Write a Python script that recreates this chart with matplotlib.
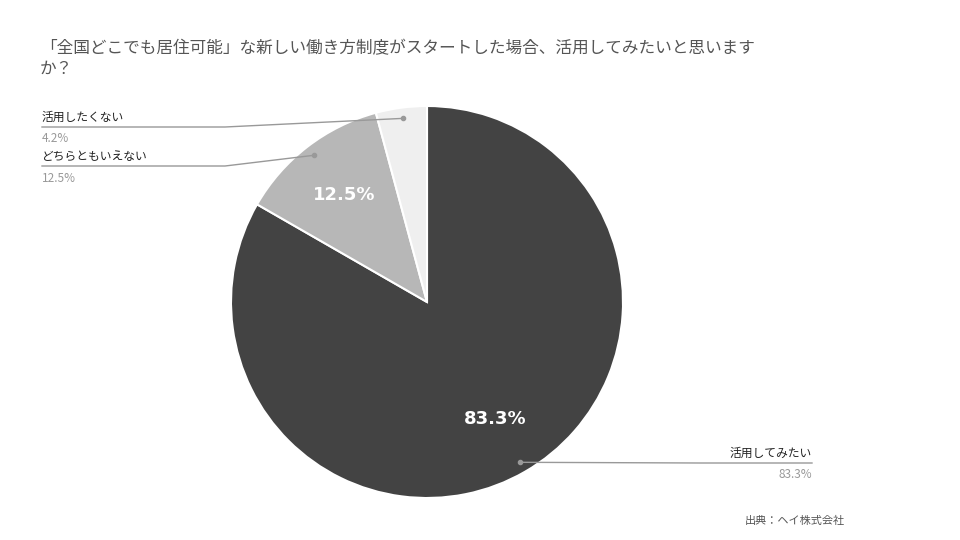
import matplotlib
matplotlib.use("Agg")
import matplotlib.pyplot as plt
import numpy as np
from matplotlib.lines import Line2D

plt.rcParams['font.family'] = ['Noto Sans CJK JP', 'DejaVu Sans']

labels = ["活用してみたい", "どちらともいえない", "活用したくない"]
values = [83.3, 12.5, 4.2]
colors = ["#434343", "#b7b7b7", "#efefef"]
title = "「全国どこでも居住可能」な新しい働き方制度がスタートした場合、活用してみたいと思います\nか？"
source = "出典：ヘイ株式会社"

W, H = 960, 540
fig = plt.figure(figsize=(9.6, 5.4), dpi=100)
ax = fig.add_axes([(427-196)/W, (540-498)/H, 392/W, 392/H])
wedges, _ = ax.pie(values, colors=colors, startangle=90, counterclock=False,
                   wedgeprops=dict(linewidth=1.5, edgecolor="white"))
ax.set_xlim(-1, 1); ax.set_ylim(-1, 1); ax.set_aspect('equal'); ax.axis('off')

total = sum(values)
start = 90.0
mids = []
for v in values:
    ang = start - v/total*360/2
    mids.append(np.deg2rad(ang))
    start -= v/total*360

# inner labels for big slices
for i in range(2):
    a = mids[i]
    ax.text(0.69*np.cos(a), 0.69*np.sin(a), f"{values[i]:.1f}%", color="white",
            fontsize=13, fontweight="bold", ha="center", va="center", family="DejaVu Sans")

def px(x, y):
    return x/W, 1-y/H

# outside label layout: (label anchor y px, x side)
specs = {2: (117, 'L'), 1: (156, 'L'), 0: (453, 'R')}
for i, (ty, side) in specs.items():
    a = mids[i]
    # point location in figure px
    ppx = 427 + 0.945*196*np.cos(a)
    ppy = 302 - 0.945*196*np.sin(a)
    ly = ty + 10
    if side == 'L':
        fig.text(*px(42, ty), labels[i], fontsize=8.5, color="#222", va="center", ha="left")
        fig.text(*px(42, ty+22), f"{values[i]:.1f}%", fontsize=8.5, color="#999", va="center", ha="left")
        xs = [42, 225, ppx]; ys = [ly, ly, ppy]
    else:
        fig.text(*px(812, ty), labels[i], fontsize=8.5, color="#222", va="center", ha="right")
        fig.text(*px(812, ty+22), f"{values[i]:.1f}%", fontsize=8.5, color="#999", va="center", ha="right")
        xs = [812, 700, ppx]; ys = [ly, ly, ppy]
    fig.add_artist(Line2D([x/W for x in xs], [1-y/H for y in ys], color="#999", lw=1, transform=fig.transFigure))
    fig.add_artist(Line2D([ppx/W], [1-ppy/H], marker='o', ms=3, color="#999", transform=fig.transFigure))

fig.text(40/W, 1-40/H, title, fontsize=12, color="#555", va="top", ha="left", linespacing=1.3)
fig.text(845/W, 1-521/H, source, fontsize=8, color="#555", va="center", ha="right")

fig.savefig("out.png", dpi=100, facecolor="white")
